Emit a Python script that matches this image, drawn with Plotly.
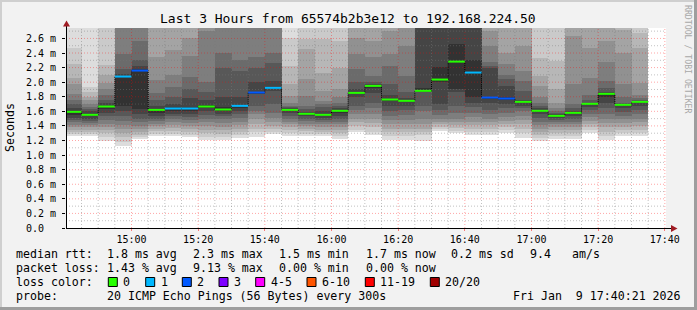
import plotly.graph_objects as go
import pandas as pd

# ---------------- data ----------------
TITLE = "Last 3 Hours from 65574b2b3e12 to 192.168.224.50"
bar_start = pd.date_range("2026-01-09 14:40:00", periods=35, freq="5min")
STEP_MS = 5 * 60 * 1000
x_range = [pd.Timestamp("2026-01-09 14:40:21"), pd.Timestamp("2026-01-09 17:40:21")]
y_max = 2.743  # milliseconds

median_ms = [1.593, 1.552, 1.666, 2.077, 2.159, 1.620, 1.639, 1.639, 1.666, 1.625,
             1.675, 1.858, 1.922, 1.620, 1.566, 1.552, 1.607, 1.853, 1.949, 1.762,
             1.744, 1.881, 2.036, 2.282, 2.132, 1.789, 1.776, 1.730, 1.607, 1.538,
             1.579, 1.703, 1.840, 1.689, 1.730]

loss_count = [0, 0, 0, 1, 2, 0, 1, 1, 0, 0, 1, 2, 1, 0, 0, 0, 0, 0, 0, 0,
              0, 0, 0, 0, 1, 2, 2, 0, 0, 0, 0, 0, 0, 0, 0]

# 20 sorted ping round-trip times per 5-minute step (ms)
pings_ms = [
    [1.26,1.29,1.32,1.35,1.38,1.41,1.45,1.48,1.515,1.55, 1.61,1.65,1.70,1.76,1.84,1.97,2.06,2.25,2.47,2.85],
    [1.26,1.29,1.32,1.35,1.38,1.41,1.44,1.47,1.50,1.53, 1.57,1.60,1.63,1.66,1.70,1.75,1.80,1.87,1.93,2.85],
    [1.19,1.25,1.30,1.35,1.39,1.43,1.48,1.53,1.58,1.63, 1.68,1.71,1.76,1.82,1.90,1.99,2.10,2.24,2.80,2.90],
    [1.12,1.18,1.25,1.30,1.36,1.41,1.47,1.53,1.60,1.67, 2.08,2.11,2.18,2.38,2.76,2.78,2.80,2.85,2.90,2.95],
    [1.22,1.25,1.28,1.32,1.36,1.40,1.45,1.50,1.56,1.63, 2.18,2.22,2.31,2.56,2.76,2.78,2.80,2.85,2.90,2.95],
    [1.26,1.29,1.33,1.36,1.40,1.43,1.47,1.50,1.54,1.58, 1.63,1.68,1.75,1.85,2.03,2.35,2.78,2.85,2.90,2.95],
    [1.26,1.29,1.33,1.37,1.41,1.45,1.49,1.53,1.57,1.61, 1.66,1.70,1.80,1.93,2.10,2.44,2.78,2.85,2.90,2.95],
    [1.25,1.28,1.32,1.36,1.40,1.44,1.48,1.52,1.56,1.61, 1.66,1.78,1.90,2.07,2.36,2.60,2.78,2.85,2.90,2.95],
    [1.21,1.25,1.30,1.35,1.40,1.45,1.50,1.55,1.60,1.64, 1.69,1.75,1.86,2.00,2.70,2.77,2.80,2.85,2.90,2.95],
    [1.21,1.25,1.29,1.34,1.39,1.44,1.49,1.53,1.57,1.60, 1.66,1.80,2.19,2.40,2.77,2.79,2.82,2.85,2.90,2.95],
    [1.23,1.27,1.31,1.36,1.41,1.46,1.51,1.56,1.61,1.65, 1.69,1.80,2.15,2.31,2.77,2.79,2.82,2.85,2.90,2.95],
    [1.25,1.31,1.36,1.43,1.50,1.56,1.61,1.68,1.84,1.85, 1.87,2.00,2.20,2.35,2.77,2.79,2.82,2.85,2.90,2.95],
    [1.29,1.32,1.36,1.40,1.45,1.51,1.58,1.70,1.88,1.90, 1.93,2.02,2.26,2.40,2.77,2.79,2.82,2.85,2.90,2.95],
    [1.26,1.30,1.34,1.38,1.42,1.46,1.50,1.54,1.58,1.61, 1.625,1.64,1.66,1.68,1.72,1.81,1.97,2.22,2.61,2.85],
    [1.26,1.29,1.33,1.36,1.40,1.43,1.47,1.50,1.53,1.56, 1.57,1.59,1.63,1.68,1.81,2.04,2.45,2.59,2.80,2.90],
    [1.26,1.29,1.32,1.35,1.39,1.42,1.45,1.48,1.51,1.54, 1.56,1.60,1.66,1.70,1.74,1.88,2.13,2.59,2.80,2.90],
    [1.22,1.26,1.30,1.34,1.38,1.42,1.46,1.50,1.54,1.59, 1.61,1.64,1.68,1.72,1.79,1.90,2.20,2.57,2.80,2.90],
    [1.31,1.35,1.40,1.45,1.50,1.56,1.62,1.68,1.80,1.84, 1.86,1.90,2.00,2.18,2.38,2.60,2.78,2.85,2.90,2.95],
    [1.27,1.32,1.38,1.44,1.50,1.57,1.64,1.72,1.85,1.93, 1.95,1.97,2.00,2.09,2.34,2.57,2.78,2.85,2.90,2.95],
    [1.21,1.26,1.31,1.36,1.42,1.48,1.54,1.61,1.68,1.75, 1.77,1.82,1.97,2.22,2.38,2.70,2.78,2.85,2.90,2.95],
    [1.21,1.26,1.31,1.36,1.42,1.48,1.55,1.62,1.68,1.73, 1.75,1.78,1.86,2.08,2.50,2.77,2.80,2.85,2.90,2.95],
    [1.19,1.27,1.31,1.36,1.43,1.50,1.60,1.68,1.86,1.87, 1.92,2.77,2.78,2.80,2.82,2.85,2.88,2.90,2.93,2.95],
    [1.33,1.36,1.39,1.42,1.45,1.49,1.55,1.62,1.70,2.00, 2.21,2.77,2.78,2.80,2.82,2.85,2.88,2.90,2.93,2.95],
    [1.30,1.33,1.37,1.41,1.45,1.50,1.58,1.68,1.87,1.90, 2.53,2.77,2.78,2.80,2.82,2.85,2.88,2.90,2.93,2.95],
    [1.28,1.31,1.36,1.41,1.46,1.52,1.58,1.66,1.72,1.80, 2.31,2.77,2.78,2.80,2.82,2.85,2.88,2.90,2.93,2.95],
    [1.28,1.32,1.36,1.41,1.46,1.50,1.56,1.62,1.72,1.78, 1.80,2.20,2.22,2.28,2.50,2.70,2.80,2.85,2.90,2.95],
    [1.30,1.34,1.38,1.42,1.47,1.52,1.58,1.64,1.70,1.76, 1.80,1.95,2.05,2.10,2.25,2.40,2.80,2.85,2.90,2.95],
    [1.24,1.30,1.36,1.42,1.48,1.54,1.60,1.65,1.68,1.72, 1.74,1.75,1.88,2.02,2.15,2.50,2.80,2.85,2.90,2.95],
    [1.19,1.23,1.27,1.31,1.36,1.41,1.46,1.51,1.56,1.60, 1.62,1.64,1.68,1.72,1.80,1.95,2.08,2.33,2.80,2.90],
    [1.22,1.26,1.30,1.34,1.38,1.42,1.45,1.48,1.51,1.53, 1.545,1.56,1.58,1.60,1.64,1.72,1.90,2.29,2.80,2.90],
    [1.22,1.26,1.30,1.34,1.38,1.42,1.46,1.50,1.54,1.57, 1.585,1.61,1.64,1.70,1.97,2.63,2.80,2.85,2.90,2.95],
    [1.30,1.34,1.38,1.42,1.47,1.52,1.57,1.62,1.66,1.69, 1.71,1.72,1.75,1.83,2.06,2.47,2.80,2.85,2.90,2.95],
    [1.21,1.26,1.32,1.38,1.44,1.50,1.57,1.64,1.72,1.80, 1.845,1.86,1.92,2.02,2.27,2.56,2.80,2.85,2.90,2.95],
    [1.26,1.30,1.34,1.39,1.44,1.49,1.54,1.59,1.64,1.68, 1.69,1.70,1.72,1.80,1.97,2.40,2.72,2.85,2.90,2.95],
    [1.26,1.30,1.35,1.40,1.45,1.50,1.56,1.62,1.68,1.72, 1.735,1.74,1.75,1.78,1.83,1.99,2.47,2.68,2.90,2.95],
]

y_major = [0.0, 0.2, 0.4, 0.6, 0.8, 1.0, 1.2, 1.4, 1.6, 1.8, 2.0, 2.2, 2.4, 2.6]
y_minor = [0.1, 0.3, 0.5, 0.7, 0.9, 1.1, 1.3, 1.5, 1.7, 1.9, 2.1, 2.3, 2.5, 2.7]
y_ticktext = ["0.0\u00a0\u00a0", "0.2 m", "0.4 m", "0.6 m", "0.8 m", "1.0 m", "1.2 m", "1.4 m",
              "1.6 m", "1.8 m", "2.0 m", "2.2 m", "2.4 m", "2.6 m"]
x_major = pd.date_range("2026-01-09 15:00", "2026-01-09 17:40", freq="20min")
x_minor = pd.date_range("2026-01-09 14:45", "2026-01-09 17:40", freq="5min")

loss_colors = {0: "#26ff00", 1: "#00b8ff", 2: "#0059ff", 3: "#7e00ff"}
legend_labels = ["0", "1", "2", "3", "4-5", "6-10", "11-19", "20/20"]
legend_colors = ["#26ff00", "#00b8ff", "#0059ff", "#7e00ff", "#ff00ff", "#ff5500", "#ff0000", "#a10000"]

rtt_stats = ["1.8 ms avg", "2.3 ms max", "1.5 ms min", "1.7 ms now", "0.2 ms sd", "9.4", "am/s"]
loss_stats = ["1.43 % avg", "9.13 % max", "0.00 % min", "0.00 % now"]
probe_text = "20 ICMP Echo Pings (56 Bytes) every 300s"
stamp_text = "Fri Jan  9 17:40:21 2026"

# ---------------- figure ----------------
MONO = "DejaVu Sans Mono"
W, H = 697, 310
L, R, T, B = 66, 31, 28, 82
PW, PH = W - L - R, H - T - B

fig = go.Figure()
centers = bar_start + pd.Timedelta(milliseconds=STEP_MS / 2)

# smoke bands (outer light -> inner dark)
for k in range(10):
    g = int(190 / 10 * (10 - (k + 1))) + 50
    lo = [p[k] for p in pings_ms]
    hi = [p[19 - k] for p in pings_ms]
    fig.add_bar(x=centers, y=[h - l for h, l in zip(hi, lo)], base=lo, width=STEP_MS,
                marker=dict(color=f"rgb({g},{g},{g})", line=dict(width=0)),
                hoverinfo="skip", showlegend=False)

# grid lines drawn over the smoke
def hlines(vals):
    xs, ys = [], []
    for v in vals:
        xs += [x_range[0], x_range[1], None]
        ys += [v, v, None]
    return xs, ys

def vlines(vals):
    xs, ys = [], []
    for t in vals:
        xs += [t, t, None]
        ys += [0, y_max, None]
    return xs, ys

minor_t = [t for t in x_minor if t not in set(x_major)]
for (xs, ys), col in [(hlines(y_minor), "rgba(120,120,120,0.45)"),
                      (vlines(minor_t), "rgba(120,120,120,0.45)"),
                      (hlines(y_major[1:]), "rgba(255,0,0,0.35)"),
                      (vlines(list(x_major)), "rgba(255,0,0,0.35)")]:
    fig.add_scatter(x=xs, y=ys, mode="lines", line=dict(color=col, width=1, dash="1px,2px"),
                    hoverinfo="skip", showlegend=False)

# median: dotted black step connectors
step_x = list(bar_start) + [bar_start[-1] + pd.Timedelta(milliseconds=STEP_MS)]
step_y = median_ms + [median_ms[-1]]
fig.add_scatter(x=step_x, y=step_y, mode="lines", line=dict(color="#000", width=1, dash="1px,1px", shape="hv"),
                hoverinfo="skip", showlegend=False)

# median coloured by loss
for lc, col in loss_colors.items():
    xs, ys = [], []
    for t, m, n in zip(bar_start, median_ms, loss_count):
        if n == lc:
            xs += [t, t + pd.Timedelta(milliseconds=STEP_MS), None]
            ys += [m, m, None]
    if xs:
        fig.add_scatter(x=xs, y=ys, mode="lines", line=dict(color=col, width=2),
                        hoverinfo="skip", showlegend=False)

def px(xp):
    return (xp - L) / PW

def py(yp):
    return (T + PH - yp) / PH

def text(x, y, s, size=11.6, color="#000", xanchor="left", **kw):
    fig.add_annotation(x=px(x), y=py(y), xref="paper", yref="paper", text=s.replace(" ", "\u00a0"),
                       showarrow=False, xanchor=xanchor, yanchor="middle", borderpad=0,
                       font=dict(family=MONO, size=size, color=color), **kw)

shapes = []
# frame
shapes += [
    dict(type="rect", xref="paper", yref="paper", x0=px(0), x1=px(W), y0=py(0), y1=py(2), fillcolor="#cfcfcf", line_width=0),
    dict(type="rect", xref="paper", yref="paper", x0=px(0), x1=px(2), y0=py(0), y1=py(H), fillcolor="#cfcfcf", line_width=0),
    dict(type="rect", xref="paper", yref="paper", x0=px(0), x1=px(W), y0=py(H - 3), y1=py(H), fillcolor="#9e9e9e", line_width=0),
    dict(type="rect", xref="paper", yref="paper", x0=px(W - 3), x1=px(W), y0=py(0), y1=py(H), fillcolor="#9e9e9e", line_width=0),
]
# axis extensions and arrows
shapes += [
    dict(type="line", xref="paper", yref="paper", x0=px(66.5), x1=px(66.5), y0=py(228), y1=py(24), line=dict(color="#000", width=1)),
    dict(type="line", xref="paper", yref="paper", x0=px(66), x1=px(672), y0=py(228.5), y1=py(228.5), line=dict(color="#000", width=1)),
    dict(type="path", xref="paper", yref="paper",
         path=f"M {px(66.5)},{py(20.5)} L {px(63)},{py(26.5)} L {px(70)},{py(26.5)} Z",
         fillcolor="#a01c24", line_width=0),
    dict(type="path", xref="paper", yref="paper",
         path=f"M {px(677.5)},{py(228.5)} L {px(671)},{py(225)} L {px(671)},{py(232)} Z",
         fillcolor="#a01c24", line_width=0),
]

# title, axis label, watermark
text(347.5, 18.5, TITLE, size=13, xanchor="center")
text(10, 128, "Seconds", size=11.6, xanchor="center", textangle=-90)
text(688, 59, "RRDTOOL / TOBI OETIKER", size=8.2, color="#a8a8a8", xanchor="center", textangle=90)

# legend rows
col_x = [105.7, 192.3, 278.3, 364.7, 450, 529, 571.3]
text(15, 254.3, "median rtt:")
for s, x in zip(rtt_stats, col_x):
    text(x, 254.3, s)
text(15, 268.3, "packet loss:")
for s, x in zip(loss_stats, col_x):
    text(x, 268.3, s)
text(15, 282.3, "loss color:")
box_x = [108.3, 145.7, 182.3, 219, 255.7, 307, 365.3, 430.3]
for lab, col, bx in zip(legend_labels, legend_colors, box_x):
    shapes.append(dict(type="rect", xref="paper", yref="paper", x0=px(bx), x1=px(bx + 9), y0=py(277.5), y1=py(286.5),
                       fillcolor=col, line=dict(color="#000", width=1)))
    text(bx + 14, 282.3, lab)
text(15, 295.7, "probe:")
text(105.7, 295.7, probe_text)
text(512.3, 295.7, stamp_text)

fig.update_layout(
    width=W, height=H, margin=dict(l=L, r=R, t=T, b=B, pad=0),
    paper_bgcolor="#f2f2f2", plot_bgcolor="#ffffff",
    barmode="overlay", bargap=0, showlegend=False, shapes=shapes,
    font=dict(family=MONO, size=10, color="#000"),
)
fig.update_xaxes(type="date", range=x_range, showgrid=False, zeroline=False, showline=False,
                 tickmode="array", tickvals=list(x_major), ticktext=[t.strftime("%H:%M") for t in x_major],
                 ticks="outside", ticklen=2, tickcolor="rgba(255,0,0,0.5)", ticklabelstandoff=0,
                 tickfont=dict(family=MONO, size=10, color="#000"), fixedrange=True)
fig.update_yaxes(range=[0, y_max], showgrid=False, zeroline=False, showline=False,
                 tickmode="array", tickvals=y_major, ticktext=y_ticktext,
                 ticks="outside", ticklen=3, tickcolor="#000", ticklabelstandoff=4,
                 tickfont=dict(family=MONO, size=10, color="#000"), fixedrange=True)

fig.write_html("out.html")
